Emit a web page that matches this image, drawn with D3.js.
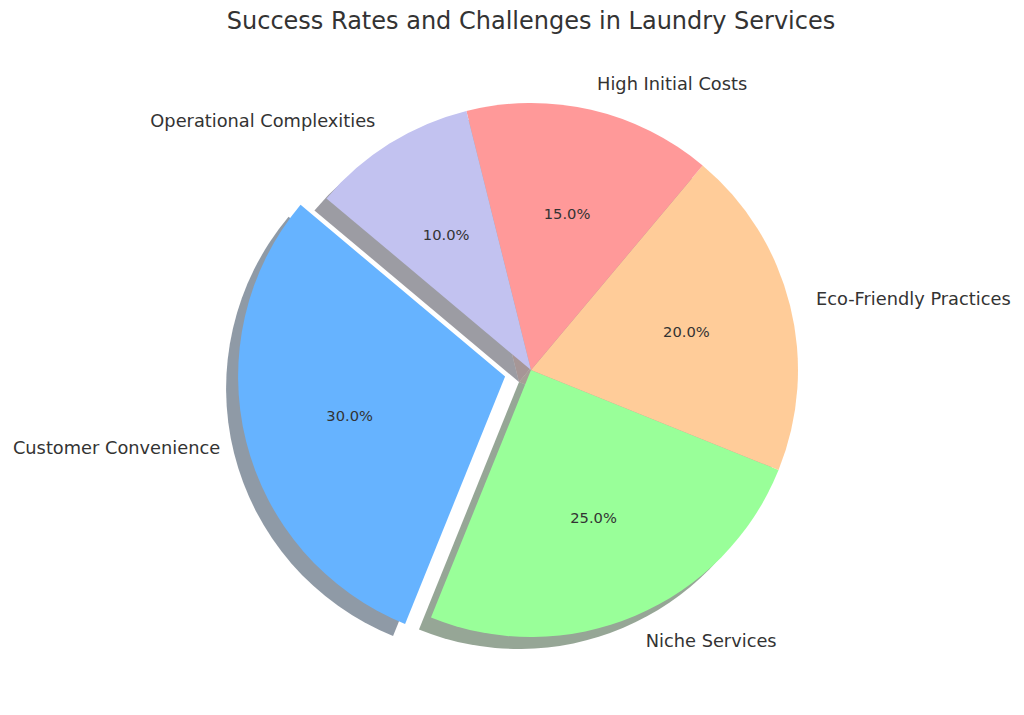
<!DOCTYPE html>
<html>
<head>
<meta charset="utf-8">
<script src="https://cdn.jsdelivr.net/npm/d3@7"></script>
<style>
  body { margin: 0; background: #fff; }
  text { font-family: "DejaVu Sans", sans-serif; fill: #333; }
</style>
</head>
<body>
<div id="chart"></div>
<script>
// data
var labels = ['Customer Convenience', 'Niche Services', 'Eco-Friendly Practices', 'High Initial Costs', 'Operational Complexities'];
var values = [30, 25, 20, 15, 10];
var colors = ['#66b3ff', '#99ff99', '#ffcc99', '#ff9999', '#c2c2f0'];
var explode = [0.1, 0, 0, 0, 0];
var TITLE = 'Success Rates and Challenges in Laundry Services';

var width = 1024, height = 715;
var cx = 531, cy = 370, r = 267;
var shadowDx = -12, shadowDy = 12;

var svg = d3.select("#chart")
    .append("svg")
    .attr("width", width)
    .attr("height", height);

svg.append("text")
    .attr("x", cx)
    .attr("y", 21)
    .attr("text-anchor", "middle")
    .attr("dominant-baseline", "central")
    .style("font-size", "24px")
    .text(TITLE);

// matplotlib style: startangle 140 deg, counterclockwise
var start = (90 - 140) * Math.PI / 180;
var pie = d3.pie()
    .sort(null)
    .startAngle(start)
    .endAngle(start - 2 * Math.PI);

var arcs = pie(values).map(function(d, i) {
    d.label = labels[i];
    d.color = colors[i];
    d.mid = (d.startAngle + d.endAngle) / 2;
    d.ox = Math.sin(d.mid) * explode[i] * r;
    d.oy = -Math.cos(d.mid) * explode[i] * r;
    return d;
});

var arc = d3.arc().innerRadius(0).outerRadius(r);

var g = svg.append("g")
    .attr("transform", "translate(" + cx + "," + cy + ")");

function darker(c) {
    var col = d3.rgb(c);
    return d3.rgb(col.r * 0.3, col.g * 0.3, col.b * 0.3);
}

// shadows
g.selectAll("path.shadow")
    .data(arcs)
    .enter()
    .append("path")
    .attr("class", "shadow")
    .attr("d", arc)
    .attr("transform", function(d) { return "translate(" + (d.ox + shadowDx) + "," + (d.oy + shadowDy) + ")"; })
    .attr("fill", function(d) { return darker(d.color); })
    .attr("fill-opacity", 0.5);

// wedges
g.selectAll("path.wedge")
    .data(arcs)
    .enter()
    .append("path")
    .attr("class", "wedge")
    .attr("d", arc)
    .attr("transform", function(d) { return "translate(" + d.ox + "," + d.oy + ")"; })
    .attr("fill", function(d) { return d.color; });

// outer labels
g.selectAll("text.label")
    .data(arcs)
    .enter()
    .append("text")
    .attr("class", "label")
    .attr("x", function(d) { return d.ox + Math.sin(d.mid) * 1.1 * r; })
    .attr("y", function(d) { return d.oy - Math.cos(d.mid) * 1.1 * r; })
    .attr("text-anchor", function(d) { return Math.sin(d.mid) > 0 ? "start" : "end"; })
    .attr("dominant-baseline", "central")
    .style("font-size", "17.8px")
    .text(function(d) { return d.label; });

// percentages
var total = d3.sum(values);
g.selectAll("text.pct")
    .data(arcs)
    .enter()
    .append("text")
    .attr("class", "pct")
    .attr("x", function(d) { return d.ox + Math.sin(d.mid) * 0.6 * r; })
    .attr("y", function(d) { return d.oy - Math.cos(d.mid) * 0.6 * r; })
    .attr("text-anchor", "middle")
    .attr("dominant-baseline", "central")
    .style("font-size", "14.7px")
    .text(function(d) { return (d.value / total * 100).toFixed(1) + "%"; });
</script>
</body>
</html>
